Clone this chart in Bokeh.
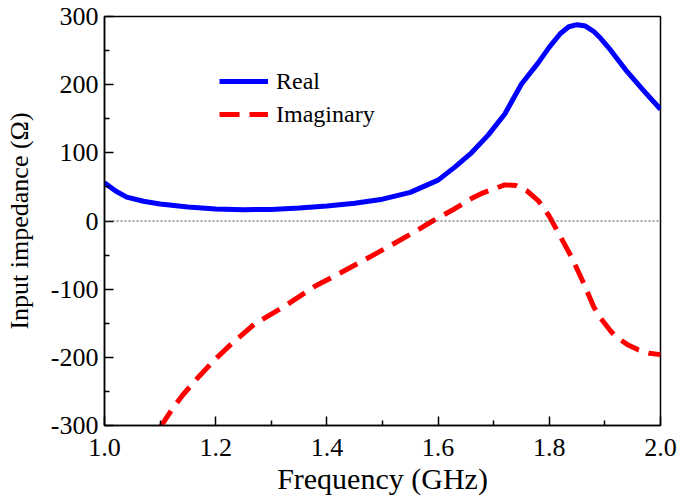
from bokeh.plotting import figure
from bokeh.models import Range1d, Span, Legend, LegendItem, FixedTicker
from bokeh.embed import file_html
from bokeh.resources import INLINE

# ---- data ----
freq_real = [1.00, 1.02, 1.04, 1.07, 1.10, 1.15, 1.20, 1.25, 1.30, 1.35, 1.40, 1.45,
             1.50, 1.55, 1.60, 1.63, 1.66, 1.69, 1.72, 1.75, 1.78, 1.80, 1.82, 1.835,
             1.85, 1.865, 1.88, 1.89, 1.91, 1.94, 1.97, 2.00]
real_vals = [56, 44, 35, 29, 25, 20.5, 17.5, 16.5, 17, 19, 22, 26,
             32, 42, 60, 79, 100, 126, 157, 201, 232, 255, 275, 285,
             288, 286, 278, 270, 251, 219, 191, 164]

freq_imag = [1.10, 1.12, 1.14, 1.17, 1.20, 1.23, 1.27, 1.32, 1.38, 1.42, 1.47, 1.51,
             1.56, 1.59, 1.63, 1.66, 1.68, 1.70, 1.72, 1.74, 1.76, 1.78, 1.79, 1.80,
             1.82, 1.84, 1.86, 1.88, 1.89, 1.91, 1.92, 1.94, 1.96, 1.98, 2.00]
imag_vals = [-303, -278, -256, -228, -202, -179, -151, -127, -95, -78, -56, -38,
             -15, 0, 18, 33, 41, 47, 53, 52, 44, 30, 19, 7,
             -23, -53, -88, -126, -140, -161, -170, -181, -189, -194, -196]

x_ticks = [1.0, 1.2, 1.4, 1.6, 1.8, 2.0]
x_labels = ["1.0", "1.2", "1.4", "1.6", "1.8", "2.0"]
y_ticks = [-300, -200, -100, 0, 100, 200, 300]
y_labels = ["-300", "-200", "-100", "0", "100", "200", "300"]
series_names = ["Real", "Imaginary"]

FONT = "Liberation Serif"

p = figure(width=678, height=497, output_backend="svg", toolbar_location=None,
           x_range=Range1d(1.0, 2.0), y_range=Range1d(-300, 300),
           min_border_left=104, min_border_right=18, min_border_top=16,
           min_border_bottom=72, background_fill_color="white",
           border_fill_color="white")

p.xgrid.visible = False
p.ygrid.visible = False
p.outline_line_color = "black"
p.outline_line_width = 1.5

xmin = [(a + b) / 2 for a, b in zip(x_ticks[:-1], x_ticks[1:])]
ymin = [(a + b) / 2 for a, b in zip(y_ticks[:-1], y_ticks[1:])]
p.xaxis.ticker = FixedTicker(ticks=x_ticks, minor_ticks=xmin)
p.yaxis.ticker = FixedTicker(ticks=y_ticks, minor_ticks=ymin)
p.xaxis.major_label_overrides = {t: l for t, l in zip(x_ticks, x_labels)}
p.yaxis.major_label_overrides = {t: l for t, l in zip(y_ticks, y_labels)}

for ax in (p.xaxis, p.yaxis):
    ax.axis_line_color = "black"
    ax.axis_line_width = 1.5
    ax.major_tick_line_color = "black"
    ax.minor_tick_line_color = "black"
    ax.major_tick_line_width = 1.5
    ax.minor_tick_line_width = 1.5
    ax.major_tick_in = 9
    ax.major_tick_out = 0
    ax.minor_tick_in = 5
    ax.minor_tick_out = 0
    ax.major_label_text_font = FONT
    ax.major_label_text_font_size = "26px"
    ax.major_label_text_color = "black"
    ax.axis_label_text_font = FONT
    ax.axis_label_text_font_style = "normal"
    ax.axis_label_text_color = "black"

p.xaxis.axis_label = "Frequency (GHz)"
p.yaxis.axis_label = "Input impedance (\u03a9)"
p.xaxis.axis_label_text_font_size = "30px"
p.yaxis.axis_label_text_font_size = "26px"
p.xaxis.major_label_standoff = 13
p.yaxis.major_label_standoff = 6
p.xaxis.axis_label_standoff = 3
p.yaxis.axis_label_standoff = 14

p.add_layout(Span(location=0, dimension="width", line_color="#444444",
                  line_width=1, line_dash="2 2"))

r_real = p.line(freq_real, real_vals, line_color="#0000ff", line_width=5,
                line_join="round")
r_imag = p.line(freq_imag, imag_vals, line_color="#ff0000", line_width=5,
                line_dash="20 10", line_join="round")

legend = Legend(items=[LegendItem(label=series_names[0], renderers=[r_real]),
                       LegendItem(label=series_names[1], renderers=[r_imag])],
                location=(115, 296))
legend.label_text_font = FONT
legend.label_text_font_size = "24px"
legend.label_text_color = "black"
legend.glyph_width = 49
legend.glyph_height = 30
legend.label_height = 30
legend.spacing = 3
legend.padding = 0
legend.margin = 0
legend.label_standoff = 8
legend.border_line_color = None
legend.background_fill_alpha = 0
p.add_layout(legend)

open("out.html", "w").write(file_html(p, INLINE))
